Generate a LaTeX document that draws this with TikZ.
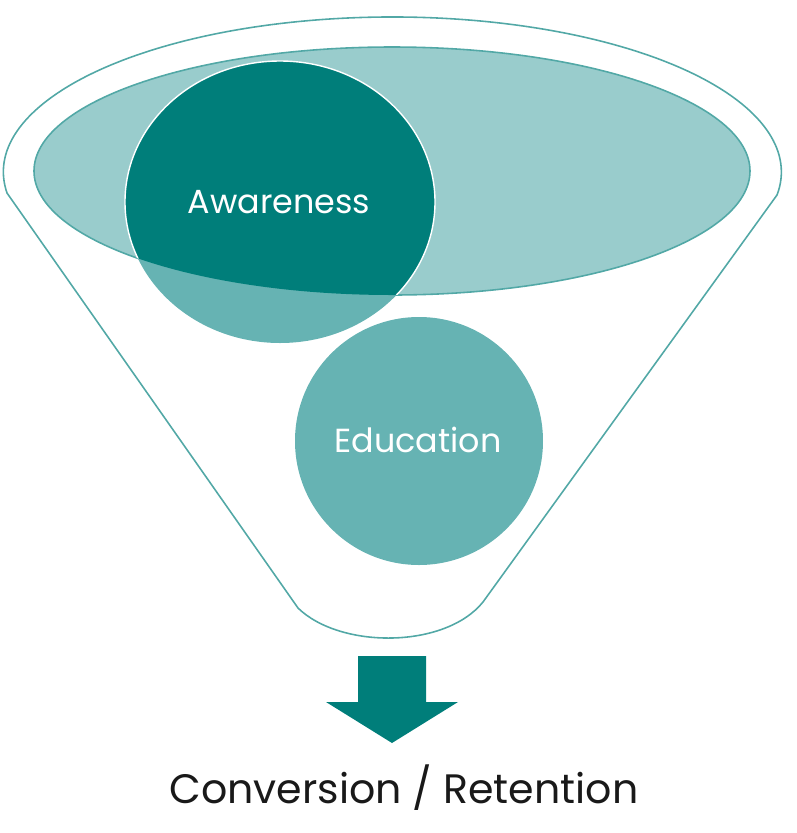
\documentclass[tikz,border=0pt]{standalone}
\usepackage{fontspec}
\setmainfont{Poppins}
\definecolor{tealdark}{HTML}{007E7A}
\definecolor{tealmid}{HTML}{66B3B3}
\definecolor{teallight}{HTML}{99CCCC}
\definecolor{tealline}{HTML}{52A8A6}

\begin{document}
\begin{tikzpicture}[
    x=0.02cm, y=-0.02cm,
    funnelline/.style={draw=tealline, line width=0.9pt},
    circletext/.style={text=white, anchor=base, font=\fontsize{19}{23}\selectfont}
]
\useasboundingbox (0,0) rectangle (797,833);

% funnel outline
\draw[funnelline, line join=round] (7,193)
    arc[start angle=172.2, end angle=368.5, x radius=389, y radius=155]
    -- (483,602) .. controls (445,649) and (340,649) .. (298,608) -- cycle;

% top opening
\fill[teallight] (392,171) ellipse[x radius=358, y radius=124];
\draw[funnelline] (392,171) ellipse[x radius=358, y radius=124];

% stages
\fill[tealmid] (280,202) ellipse[x radius=155, y radius=141];
\begin{scope}
    \clip (392,171) ellipse[x radius=358, y radius=124];
    \fill[tealdark] (280,202) ellipse[x radius=155, y radius=141];
    \draw[white, line width=0.8pt] (280,202) ellipse[x radius=155, y radius=141];
\end{scope}
\fill[tealmid] (419,441) circle[radius=124];

\node[circletext] (awareness) at (279,213) {Awareness};
\node[circletext] (education) at (418,452) {Education};

% output
\fill[tealdark] (358,656) -- (426,656) -- (426,702) -- (458,702) -- (392,743)
    -- (326,702) -- (358,702) -- cycle;
\node[anchor=base, text=black!90, font=\fontsize{23.4}{28}\selectfont] (result) at (404,803) {Conversion / Retention};

\end{tikzpicture}
\end{document}
